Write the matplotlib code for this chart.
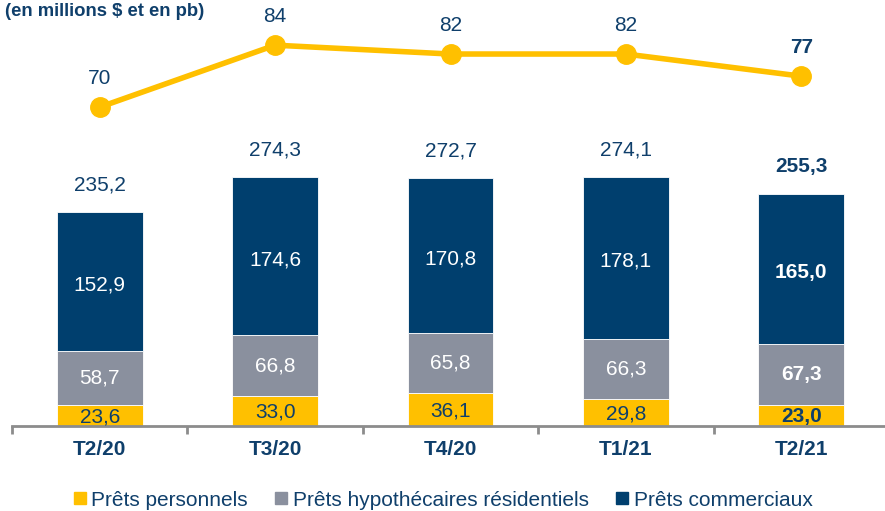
import numpy as np
import matplotlib.pyplot as plt
from matplotlib.lines import Line2D

plt.rcParams['font.family'] = ['Liberation Sans', 'DejaVu Sans']

quarters = ["T2/20", "T3/20", "T4/20", "T1/21", "T2/21"]
personnels = [23.6, 33.0, 36.1, 29.8, 23.0]
hypothecaires = [58.7, 66.8, 65.8, 66.3, 67.3]
commerciaux = [152.9, 174.6, 170.8, 178.1, 165.0]
totaux = [235.2, 274.3, 272.7, 274.1, 255.3]
pb = [70, 84, 82, 82, 77]

navy = "#003F6E"
gray = "#8A909E"
yellow = "#FFC000"
txt = "#0F3F6B"

def fr(v, d=1):
    return f"{v:.{d}f}".replace(".", ",")

fig = plt.figure(figsize=(8.85, 5.11), dpi=100)
ax = fig.add_axes([12 / 885, 85 / 511, 877 / 885, 426 / 511])
x = np.arange(len(quarters))
w = 0.49

b1 = np.array(personnels)
b2 = b1 + np.array(hypothecaires)
ax.bar(x, personnels, w, color=yellow, edgecolor="white", linewidth=0.6)
ax.bar(x, hypothecaires, w, bottom=b1, color=gray, edgecolor="white", linewidth=0.6)
ax.bar(x, commerciaux, w, bottom=b2, color=navy, edgecolor="white", linewidth=0.6)

fs = 15
for i in x:
    bold = "bold" if i == len(x) - 1 else "normal"
    ax.text(i, personnels[i] / 2 - 1.5, fr(personnels[i]), ha="center", va="center",
            color=txt, fontsize=fs, fontweight=bold)
    ax.text(i, b1[i] + hypothecaires[i] / 2, fr(hypothecaires[i]), ha="center", va="center",
            color="white", fontsize=fs, fontweight=bold)
    ax.text(i, b2[i] + commerciaux[i] / 2 - 4, fr(commerciaux[i]), ha="center", va="center",
            color="white", fontsize=fs, fontweight=bold)
    ax.annotate(fr(totaux[i]), (i, totaux[i]), xytext=(0, 27), textcoords="offset pixels",
                ha="center", va="center", color=txt, fontsize=fs, fontweight=bold)

ax.set_xlim(-0.5, len(x) - 0.5)
ax.set_ylim(0, 468.6)
for s in ["top", "right", "left"]:
    ax.spines[s].set_visible(False)
ax.spines["bottom"].set_color("#8C8C8C")
ax.spines["bottom"].set_linewidth(2)
ax.set_yticks([])
ax.set_xticks(np.arange(-0.5, len(x), 1.0))
ax.set_xticklabels([])
ax.tick_params(axis="x", length=6, width=2, color="#8C8C8C", direction="out")
for i, q in enumerate(quarters):
    ax.text(i, -26, q, ha="center", va="center", color=txt, fontsize=15, fontweight="bold")

ax2 = ax.twinx()
ax2.set_ylim(-2.0, 94.2)
ax2.plot(x, pb, color=yellow, linewidth=4, marker="o", markersize=14, zorder=3)
for i in x:
    bold = "bold" if i == len(x) - 1 else "normal"
    ax2.annotate(str(pb[i]), (i, pb[i]), xytext=(0, 29), textcoords="offset pixels",
                 ha="center", va="center", color=txt, fontsize=fs, fontweight=bold)
ax2.axis("off")

fig.text(5 / 885, 1 - 12 / 511, "(en millions $ et en pb)", ha="left", va="center",
         color=txt, fontsize=13.3, fontweight="bold")

handles = [Line2D([], [], marker="s", linestyle="", color=c, markersize=9)
           for c in [yellow, gray, navy]]
fig.legend(handles, ["Prêts personnels", "Prêts hypothécaires résidentiels", "Prêts commerciaux"],
           loc="center", bbox_to_anchor=(443 / 885, 1 - 500 / 511), ncol=3, frameon=False,
           fontsize=15, labelcolor=txt, handletextpad=0.25, columnspacing=1.3,
           handlelength=0.6, borderaxespad=0, borderpad=0)

fig.savefig("out.png", dpi=100)
